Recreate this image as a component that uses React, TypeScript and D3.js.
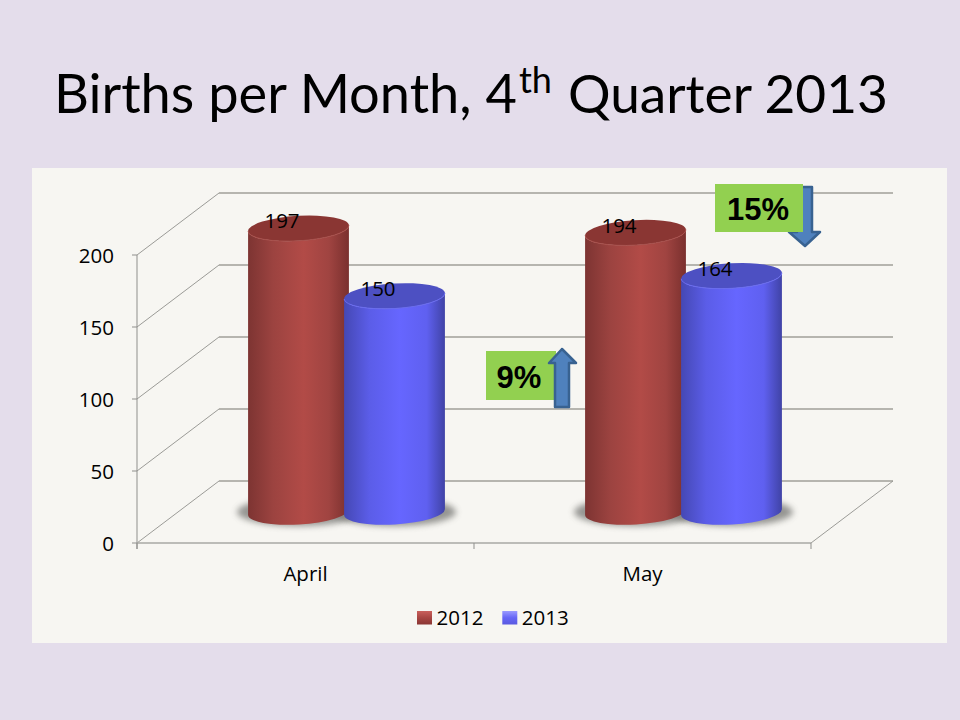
import * as d3 from "d3";

const months = ["April", "May"];
const years = ["2012", "2013"];
const values2012 = [197, 194];
const values2013 = [150, 164];
const yTicks = [0, 50, 100, 150, 200];

const W = 960;
const H = 720;
const FRONT = { left: 137, right: 811, bottom: 543, top: 255 };
const DEPTH = { x: 82, y: -62 };
const RX = 50.5;
const RY = 12.5;
const ROT = -3.4;

const x = d3.scaleBand<string>().domain(months).range([FRONT.left, FRONT.right]);
const xYear = d3.scaleBand<string>().domain(years).range([-96, 96]);
const y = d3.scaleLinear().domain([0, 200]).range([FRONT.bottom, FRONT.top]);

const seriesList = [
  { year: "2012", values: values2012 },
  { year: "2013", values: values2013 },
];

const FONT = "'Open Sans', sans-serif";
const LABEL_SIZE = 20.5;
const rimDx = RX * Math.cos((ROT * Math.PI) / 180);
const rimDy = RX * Math.sin((ROT * Math.PI) / 180);

function barCenter(month: string, year: string) {
  return (x(month) ?? 0) + x.bandwidth() / 2 + DEPTH.x / 2 + (xYear(year) ?? 0) + xYear.bandwidth() / 2;
}

function bodyPath(cx: number, topY: number, baseY: number) {
  const x0 = cx - rimDx;
  const x1 = cx + rimDx;
  return (
    `M${x0},${topY - rimDy} A${RX},${RY} ${ROT} 0 0 ${x1},${topY + rimDy} ` +
    `L${x1},${baseY + rimDy} A${RX},${RY} ${ROT} 0 1 ${x0},${baseY - rimDy} Z`
  );
}

function frontArc(cx: number, topY: number) {
  return `M${cx - rimDx},${topY - rimDy} A${RX},${RY} ${ROT} 0 0 ${cx + rimDx},${topY + rimDy}`;
}

const polyline = d3.line();

function Arrow({ points }: { points: [number, number][] }) {
  return <path d={polyline(points) + "Z"} fill="#4f81bd" stroke="#386291" strokeWidth={2.5} strokeLinejoin="round" />;
}

export default function App() {
  const gridY = yTicks.map((t) => y(t));
  const baseY = y(0) + DEPTH.y / 2;
  return (
    <svg width={W} height={H} viewBox={`0 0 ${W} ${H}`} style={{ position: "absolute", left: 0, top: 0 }}>
      <defs>
        <linearGradient id="body2012">
          <stop offset="0" stopColor="#7d3432" />
          <stop offset="0.25" stopColor="#9c4340" />
          <stop offset="0.55" stopColor="#b24b47" />
          <stop offset="0.8" stopColor="#a04441" />
          <stop offset="1" stopColor="#7a302e" />
        </linearGradient>
        <linearGradient id="body2013">
          <stop offset="0" stopColor="#4548b4" />
          <stop offset="0.25" stopColor="#5b5de8" />
          <stop offset="0.55" stopColor="#6666ff" />
          <stop offset="0.82" stopColor="#5f60f0" />
          <stop offset="1" stopColor="#4043a6" />
        </linearGradient>
        <linearGradient id="swatch2012" x1="0" y1="0" x2="0" y2="1">
          <stop offset="0" stopColor="#c9605c" />
          <stop offset="0.5" stopColor="#a84643" />
          <stop offset="1" stopColor="#8a3634" />
        </linearGradient>
        <linearGradient id="swatch2013" x1="0" y1="0" x2="0" y2="1">
          <stop offset="0" stopColor="#9a9aff" />
          <stop offset="0.5" stopColor="#6666f6" />
          <stop offset="1" stopColor="#5a5ae0" />
        </linearGradient>
        <filter id="soft" x="-30%" y="-80%" width="160%" height="260%">
          <feGaussianBlur stdDeviation="3" />
        </filter>
      </defs>

      <rect width={W} height={H} fill="#e4ddeb" />
      <rect x={32} y={168} width={915} height={475} fill="#f7f6f2" />

      <text x={54} y={113} fontFamily="Lato, sans-serif" fontSize={54.2} fill="#000">
        Births per Month, 4
        <tspan dx={2} dy={-20} fontSize={36}>th</tspan>
        <tspan x={568} dy={20} fontSize={53.2}>Quarter 2013</tspan>
      </text>

      {/* back wall and side wall */}
      {gridY.map((gy) => (
        <g key={gy}>
          <line x1={FRONT.left + DEPTH.x} x2={FRONT.right + DEPTH.x} y1={gy + DEPTH.y} y2={gy + DEPTH.y} stroke="#b6b5af" strokeWidth={2} />
          <line x1={FRONT.left} x2={FRONT.left + DEPTH.x} y1={gy} y2={gy + DEPTH.y} stroke="#9b9b97" strokeWidth={1} />
          <line x1={FRONT.left - 5} x2={FRONT.left} y1={gy} y2={gy} stroke="#8f8f8c" strokeWidth={1} />
        </g>
      ))}
      <line x1={FRONT.left} x2={FRONT.left} y1={FRONT.top} y2={FRONT.bottom + 6} stroke="#8f8f8c" strokeWidth={1} />
      <line x1={FRONT.left} x2={FRONT.right} y1={FRONT.bottom} y2={FRONT.bottom} stroke="#a9a9a5" strokeWidth={1.5} />
      <line x1={FRONT.right} x2={FRONT.right + DEPTH.x} y1={FRONT.bottom} y2={FRONT.bottom + DEPTH.y} stroke="#9b9b97" strokeWidth={1} />
      {[...months.map((m) => x(m) ?? 0), FRONT.right].map((tx) => (
        <line key={tx} x1={tx} x2={tx} y1={FRONT.bottom} y2={FRONT.bottom + 6} stroke="#8f8f8c" strokeWidth={1} />
      ))}

      {yTicks.map((t) => (
        <text key={t} x={114} y={y(t)} textAnchor="end" dominantBaseline="central" fontFamily={FONT} fontSize={LABEL_SIZE} fill="#000">
          {t}
        </text>
      ))}
      {months.map((m) => (
        <text key={m} x={(x(m) ?? 0) + x.bandwidth() / 2} y={581} textAnchor="middle" fontFamily={FONT} fontSize={LABEL_SIZE} fill="#000">
          {m}
        </text>
      ))}

      {/* shadows */}
      {months.map((m) =>
        seriesList.map((s) => (
          <ellipse key={m + s.year} cx={barCenter(m, s.year)} cy={baseY} rx={RX + 11} ry={RY + 1.5} fill="#7d7d79" opacity={0.8} filter="url(#soft)" />
        )),
      )}

      {/* cylinders */}
      {months.map((m, i) =>
        seriesList.map((s) => {
          const cx = barCenter(m, s.year);
          const topY = y(s.values[i]) + DEPTH.y / 2;
          const is2012 = s.year === "2012";
          return (
            <g key={m + s.year}>
              <path d={bodyPath(cx, topY, baseY)} fill={`url(#body${s.year})`} />
              <ellipse cx={cx} cy={topY} rx={RX} ry={RY} transform={`rotate(${ROT} ${cx} ${topY})`} fill={is2012 ? "#8a3633" : "#4d50c2"} />
              <path d={frontArc(cx, topY)} fill="none" stroke={is2012 ? "#a8504c" : "#6a6cf0"} strokeWidth={1} />
            </g>
          );
        }),
      )}

      {/* value labels sit on the cylinder tops */}
      {months.map((m, i) =>
        seriesList.map((s) => (
          <text key={m + s.year} x={barCenter(m, s.year) - 16.5} y={y(s.values[i]) + DEPTH.y / 2} textAnchor="middle" fontFamily={FONT} fontSize={LABEL_SIZE} fill="#000">
            {s.values[i]}
          </text>
        )),
      )}

      {/* legend */}
      {years.map((yr, i) => (
        <g key={yr} transform={`translate(${417 + i * 85.3},611)`}>
          <rect width={15} height={13.5} fill={`url(#swatch${yr})`} />
          <text x={19.5} y={13.5} fontFamily={FONT} fontSize={LABEL_SIZE} fill="#000">
            {yr}
          </text>
        </g>
      ))}

      {/* annotations */}
      <Arrow points={[[797, 187], [812, 187], [812, 232], [820, 232], [805, 246], [789, 232], [797, 232]]} />
      <rect x={715} y={184} width={88} height={48} fill="#92d050" />
      <text x={758} y={220} textAnchor="middle" fontFamily="'Liberation Sans', Arial, sans-serif" fontWeight={700} fontSize={31} fill="#000">
        15%
      </text>

      <rect x={486} y={351} width={70} height={49} fill="#92d050" />
      <text x={519} y={388} textAnchor="middle" fontFamily="'Liberation Sans', Arial, sans-serif" fontWeight={700} fontSize={31} fill="#000">
        9%
      </text>
      <Arrow points={[[555, 407], [569, 407], [569, 363], [576, 363], [562, 349], [549, 363], [555, 363]]} />
    </svg>
  );
}
